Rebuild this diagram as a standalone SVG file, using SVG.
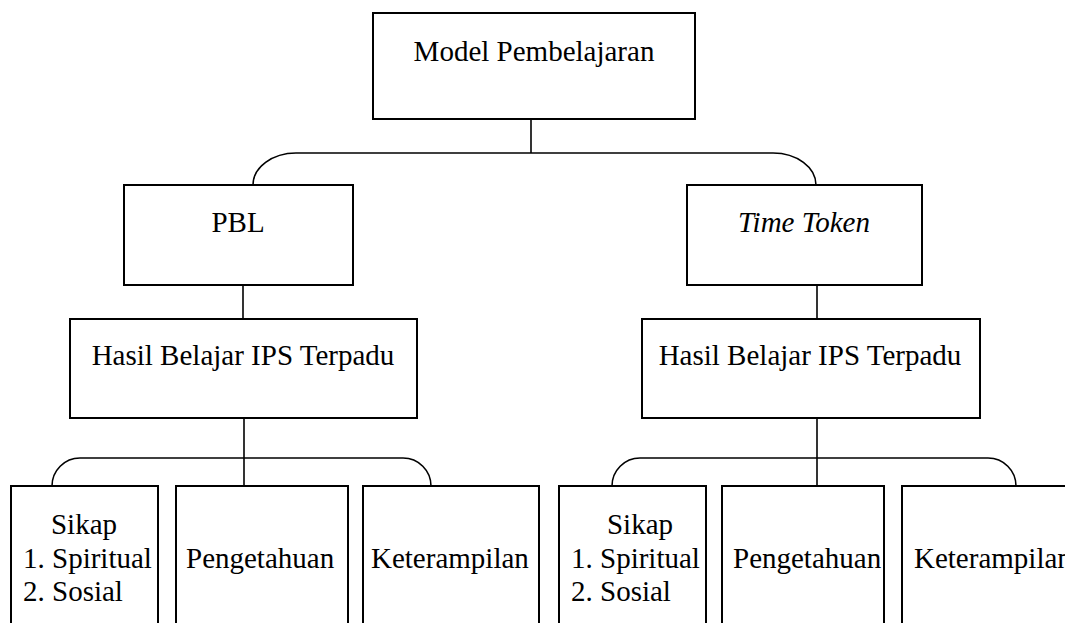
<svg xmlns="http://www.w3.org/2000/svg" width="1065" height="623" viewBox="0 0 1065 623">
<style>
.box{fill:#fff;stroke:#000;stroke-width:2}
.con{fill:none;stroke:#000;stroke-width:1.6}
.t{font-size:29px;fill:#000}
.c{text-anchor:middle}
.i{font-style:italic}
</style>
<rect width="1065" height="623" fill="#fff"/>
<g id="connectors">
<path class="con" d="M531,119 V153"/>
<path class="con" d="M253,185 A43,32 0 0 1 296,153 H773 A43,32 0 0 1 816,185"/>
<path class="con" d="M243,285 V319"/>
<path class="con" d="M817,285 V319"/>
<path class="con" d="M244,418 V486"/>
<path class="con" d="M52,486 A28,28 0 0 1 80,458 H403 A28,28 0 0 1 431,486"/>
<path class="con" d="M817,418 V486"/>
<path class="con" d="M612,486 A28,28 0 0 1 640,458 H988 A28,28 0 0 1 1016,486"/>
</g>
<g id="model">
<rect class="box" x="373" y="13" width="322" height="106"/>
<text class="t c" font-family="Liberation Serif" x="534" y="61">Model Pembelajaran</text>
</g>
<g id="pbl">
<rect class="box" x="124" y="185" width="229" height="100"/>
<text class="t c" font-family="Liberation Serif" x="238" y="232">PBL</text>
</g>
<g id="timetoken">
<rect class="box" x="687" y="185" width="235" height="100"/>
<text class="t c i" font-family="Liberation Serif" x="804" y="232">Time Token</text>
</g>
<g id="hasil-left">
<rect class="box" x="70" y="319" width="347" height="99"/>
<text class="t c" font-family="Liberation Serif" x="243" y="365">Hasil Belajar IPS Terpadu</text>
</g>
<g id="hasil-right">
<rect class="box" x="642" y="319" width="338" height="99"/>
<text class="t c" font-family="Liberation Serif" x="810" y="365">Hasil Belajar IPS Terpadu</text>
</g>
<g id="sikap-left">
<rect class="box" x="11" y="486" width="147" height="160"/>
<text class="t c" font-family="Liberation Serif" x="84" y="534">Sikap</text>
<text class="t" font-family="Liberation Serif" x="23" y="568">1. Spiritual</text>
<text class="t" font-family="Liberation Serif" x="23" y="601">2. Sosial</text>
</g>
<g id="pengetahuan-left">
<rect class="box" x="176" y="486" width="172" height="160"/>
<text class="t" font-family="Liberation Serif" x="186" y="568">Pengetahuan</text>
</g>
<g id="keterampilan-left">
<rect class="box" x="363" y="486" width="176" height="160"/>
<text class="t" font-family="Liberation Serif" x="371" y="568">Keterampilan</text>
</g>
<g id="sikap-right">
<rect class="box" x="559" y="486" width="147" height="160"/>
<text class="t c" font-family="Liberation Serif" x="640" y="534">Sikap</text>
<text class="t" font-family="Liberation Serif" x="571" y="568">1. Spiritual</text>
<text class="t" font-family="Liberation Serif" x="571" y="601">2. Sosial</text>
</g>
<g id="pengetahuan-right">
<rect class="box" x="722" y="486" width="162" height="160"/>
<text class="t" font-family="Liberation Serif" x="733" y="568">Pengetahuan</text>
</g>
<g id="keterampilan-right">
<rect class="box" x="902" y="486" width="200" height="160"/>
<text class="t" font-family="Liberation Serif" x="914" y="568">Keterampilan</text>
</g>
</svg>
